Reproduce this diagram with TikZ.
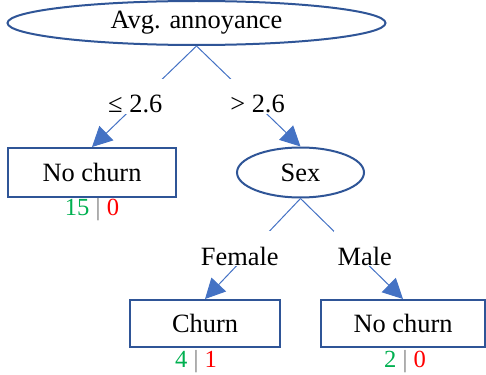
\documentclass[tikz,border=0pt]{standalone}
\usepackage{fontspec}
\setmainfont{Liberation Serif}
\usetikzlibrary{arrows.meta,positioning,shapes.geometric}
\definecolor{navy}{HTML}{2F5597}
\definecolor{linkblue}{HTML}{4472C4}
\definecolor{yesgreen}{HTML}{00B050}
\definecolor{nored}{HTML}{FF0000}
\definecolor{muted}{HTML}{7F7F7F}
\tikzset{
  split/.style={ellipse,draw=navy,line width=1pt,fill=white,inner sep=0pt},
  leaf/.style={rectangle,draw=navy,line width=1pt,fill=white,inner sep=0pt},
  branch/.style={-{Triangle[length=10pt,width=10pt]},line width=0.5pt,linkblue},
  cut/.style={fill=white,text=black,inner xsep=2pt,inner ysep=0pt,text height=16.9pt,text depth=0.5pt},
  tally/.style={inner sep=0pt,font=\fontsize{12.3}{14}\selectfont}
}
\newcommand{\counts}[2]{\textcolor{yesgreen}{#1} \textcolor{muted}{|} \textcolor{nored}{#2}}

\begin{document}
\begin{tikzpicture}[x=0.5pt,y=-0.5pt,font=\fontsize{13.2}{15}\selectfont]
  \useasboundingbox (0,0) rectangle (486,374);
  % splits
  \node[split,minimum width=189pt,minimum height=22pt] (annoy) at (196.5,23) {Avg. annoyance};
  \node[split,minimum width=63.5pt,minimum height=25pt] (sex) at (300.5,172.5) {Sex};
  % leaves
  \node[leaf,minimum width=84pt,minimum height=24.5pt] (nochurnA) at (92,172.5) {No churn};
  \node[leaf,minimum width=75pt,minimum height=23.5pt] (churn) at (205,323.5) {Churn};
  \node[leaf,minimum width=82pt,minimum height=23.5pt] (nochurnB) at (403,323.5) {No churn};
  % class counts
  \node[tally] (cntA) at (92,210) {\counts{15}{0}};
  \node[tally] (cntB) at (196,362) {\counts{4}{1}};
  \node[tally] (cntC) at (405,362) {\counts{2}{0}};
  % branches
  \draw[branch] (annoy.south) -- node[cut,xshift=-4.5pt] {≤ 2.6} (nochurnA.north);
  \draw[branch] (annoy.south) -- node[cut,xshift=4.5pt] {> 2.6} (sex.north);
  \draw[branch] (sex.south) -- node[cut,xshift=-6.5pt] {Female} (churn.north);
  \draw[branch] (sex.south) -- node[cut,xshift=6.5pt] {Male} (nochurnB.north);
\end{tikzpicture}
\end{document}
